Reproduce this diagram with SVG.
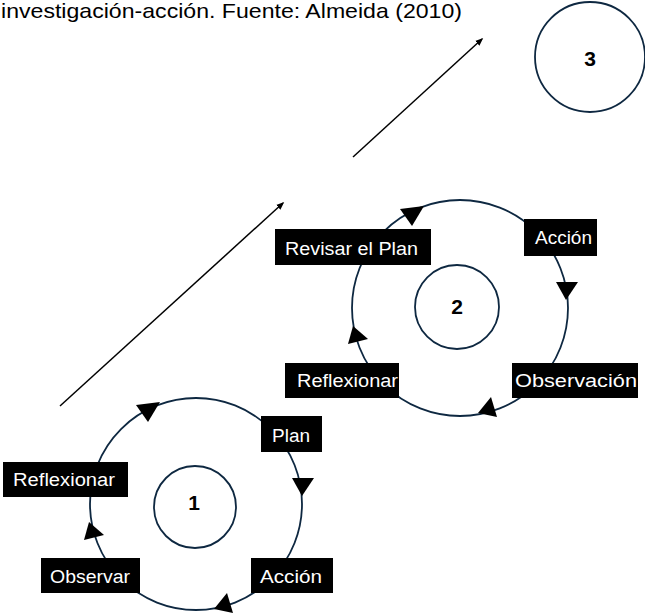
<svg xmlns="http://www.w3.org/2000/svg" xmlns:xlink="http://www.w3.org/1999/xlink" width="645" height="615" viewBox="0 0 645 615">
  <style>
    .ring { fill: none; stroke: #0e2841; stroke-width: 1.8; }
    .hub { fill: #ffffff; stroke: #0e2841; stroke-width: 1.8; }
    .num { font-family: "Liberation Sans", Arial, sans-serif; font-weight: bold; font-size: 21px; fill: #000; text-anchor: middle; }
    .box { fill: #000; }
    .lbl { font-family: "Liberation Sans", Arial, sans-serif; font-size: 18px; fill: #fff; text-anchor: middle; }
    .head { fill: #000; }
    .step { stroke: #000; stroke-width: 1.5; fill: none; }
    .title { font-family: "Liberation Sans", Arial, sans-serif; font-size: 21px; fill: #000; }
  </style>
  <defs>
    <marker id="tip" viewBox="0 0 10 10" refX="8" refY="5" markerWidth="8" markerHeight="8" orient="auto" markerUnits="userSpaceOnUse">
      <path d="M0,1 L10,5 L0,9 Z" fill="#000"/>
    </marker>
  </defs>

  <rect width="645" height="615" fill="#ffffff"/>

  <text class="title" x="1" y="18" textLength="461" lengthAdjust="spacingAndGlyphs">investigación-acción. Fuente: Almeida (2010)</text>

  <!-- progression arrows between cycles -->
  <g id="connectors">
    <line class="step" x1="60" y1="406" x2="283" y2="203" marker-end="url(#tip)"/>
    <line class="step" x1="353" y1="157" x2="482" y2="39" marker-end="url(#tip)"/>
  </g>

  <!-- cycle 1 -->
  <g id="cycle1">
    <circle class="ring" cx="196" cy="504" r="106"/>
    <polygon class="head" points="136,405 160,402 148,422"/>
    <polygon class="head" points="292,478 314,478 302,496"/>
    <polygon class="head" points="214,609 227,593 233,613"/>
    <polygon class="head" points="89,522 104,535 84,540"/>
  </g>
  <g id="hub1">
    <circle class="hub" cx="195" cy="507" r="41"/>
    <text class="num" x="194" y="510">1</text>
  </g>
  <g id="c1-plan">
    <rect class="box" x="261" y="416" width="61" height="36"/>
    <text class="lbl" x="291" y="442" textLength="38" lengthAdjust="spacingAndGlyphs">Plan</text>
  </g>
  <g id="c1-reflexionar">
    <rect class="box" x="3" y="462" width="125" height="35"/>
    <text class="lbl" x="64" y="486" textLength="102" lengthAdjust="spacingAndGlyphs">Reflexionar</text>
  </g>
  <g id="c1-observar">
    <rect class="box" x="41" y="558" width="99" height="35"/>
    <text class="lbl" x="90" y="583" textLength="80" lengthAdjust="spacingAndGlyphs">Observar</text>
  </g>
  <g id="c1-accion">
    <rect class="box" x="251" y="558" width="82" height="35"/>
    <text class="lbl" x="291" y="583" textLength="62" lengthAdjust="spacingAndGlyphs">Acción</text>
  </g>

  <!-- cycle 2 -->
  <g id="cycle2">
    <circle class="ring" cx="460" cy="308" r="108"/>
    <polygon class="head" points="400,209 424,206 412,226"/>
    <polygon class="head" points="556,282 578,282 566,300"/>
    <polygon class="head" points="478,413 491,397 497,417"/>
    <polygon class="head" points="353,326 368,339 348,344"/>
  </g>
  <g id="hub2">
    <circle class="hub" cx="457" cy="307" r="42"/>
    <text class="num" x="457" y="314">2</text>
  </g>
  <g id="c2-revisar">
    <rect class="box" x="275" y="229" width="156" height="36"/>
    <text class="lbl" x="351.5" y="255" textLength="133" lengthAdjust="spacingAndGlyphs">Revisar el Plan</text>
  </g>
  <g id="c2-accion">
    <rect class="box" x="524" y="219" width="73" height="37"/>
    <text class="lbl" x="563.5" y="244" textLength="57" lengthAdjust="spacingAndGlyphs">Acción</text>
  </g>
  <g id="c2-reflexionar">
    <rect class="box" x="285" y="363" width="114" height="35"/>
    <text class="lbl" x="347.5" y="387" textLength="101" lengthAdjust="spacingAndGlyphs">Reflexionar</text>
  </g>
  <g id="c2-observacion">
    <rect class="box" x="512" y="363" width="126" height="35"/>
    <text class="lbl" x="576" y="387" textLength="122" lengthAdjust="spacingAndGlyphs">Observación</text>
  </g>

  <!-- cycle 3 -->
  <g id="hub3">
    <circle class="ring" cx="590" cy="57" r="55"/>
    <text class="num" x="590" y="66">3</text>
  </g>
</svg>
